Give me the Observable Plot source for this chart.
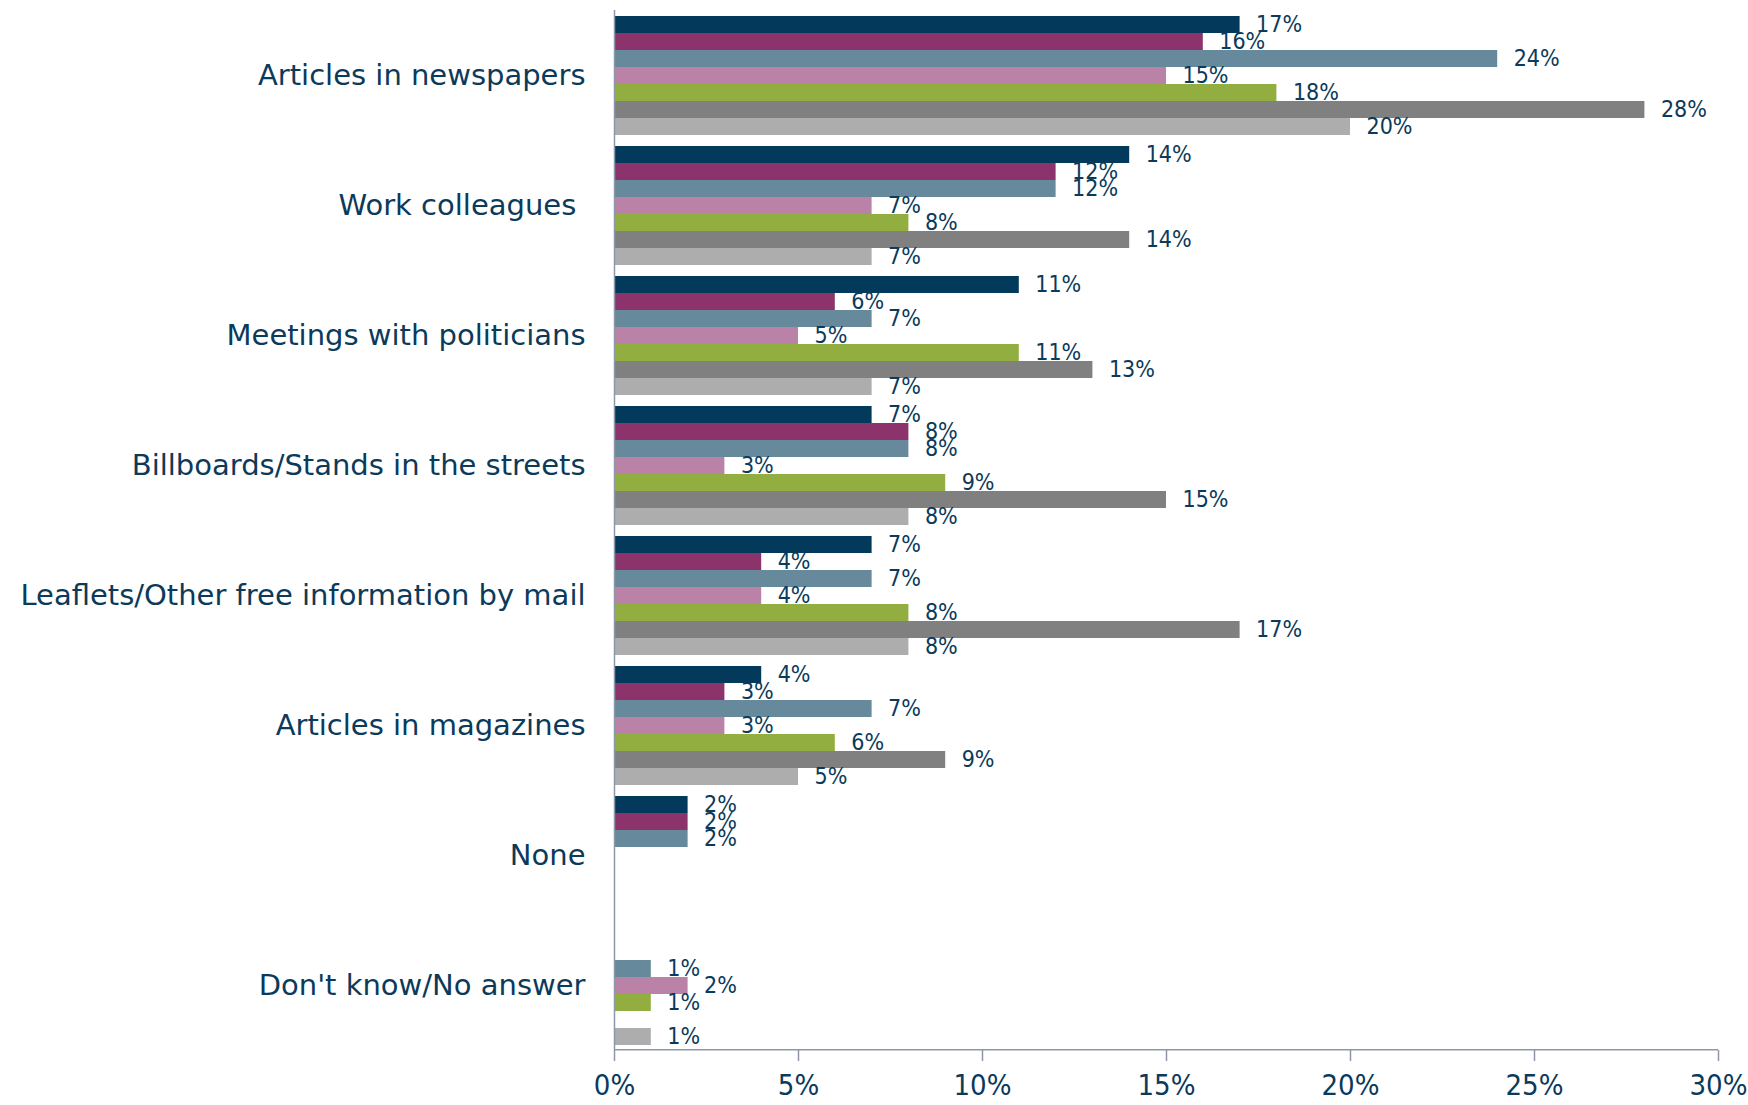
<!DOCTYPE html>
<html><head><meta charset="utf-8">
<script src="https://cdn.jsdelivr.net/npm/d3@7"></script>
<script src="https://cdn.jsdelivr.net/npm/@observablehq/plot@0.6"></script>
<style>html,body{margin:0;padding:0;background:#fff} svg{display:block}</style>
</head><body><div id="chart"></div>
<script>
const categories = ["Articles in newspapers","Work colleagues ","Meetings with politicians","Billboards/Stands in the streets","Leaflets/Other free information by mail","Articles in magazines","None","Don't know/No answer"];
const seriesNames = ["Series 1","Series 2","Series 3","Series 4","Series 5","Series 6","Series 7"];
const seriesColors = ["#033a5b","#8c336c","#66899c","#bb82a8","#92ae40","#808080","#adadad"];
const series1 = [17,14,11,7,7,4,2,null];
const series2 = [16,12,6,8,4,3,2,null];
const series3 = [24,12,7,8,7,7,2,1];
const series4 = [15,7,5,3,4,3,null,2];
const series5 = [18,8,11,9,8,6,null,1];
const series6 = [28,14,13,15,17,9,null,null];
const series7 = [20,7,7,8,8,5,null,1];
const xTicks = [0,5,10,15,20,25,30];

const allSeries = [series1,series2,series3,series4,series5,series6,series7];
const rows = [];
categories.forEach((c, ci) => allSeries.forEach((s, si) => {
  if (s[ci] != null) rows.push({category: c, series: seriesNames[si], value: s[ci]});
}));

const textColor = "#0b3a5a";
const axisColor = "#8e97a9";

const plot = Plot.plot({
  width: 1748, height: 1105,
  marginLeft: 614, marginRight: 30, marginTop: 8, marginBottom: 54,
  style: {fontFamily: "'DejaVu Sans Condensed','DejaVu Sans',sans-serif", color: textColor, background: "white", overflow: "visible"},
  x: {domain: [0, 30], axis: null},
  y: {domain: seriesNames, padding: 0, insetTop: 4, insetBottom: 4, axis: null},
  fy: {domain: categories, padding: 0, axis: null},
  color: {domain: seriesNames, range: seriesColors},
  marks: [
    Plot.barX(rows, {x: "value", y: "series", fy: "category", fill: "series"}),
    Plot.text(rows, {x: "value", y: "series", fy: "category", text: d => d.value + "%", textAnchor: "start", dx: 16, dy: 0, fontSize: 23, fill: textColor}),
    Plot.ruleX([0], {stroke: axisColor, strokeWidth: 1.5}),
    Plot.ruleY([{category: categories[7], series: seriesNames[6]}], {fy: "category", y: "series", x1: 0, x2: 30, dy: 12.7, stroke: axisColor, strokeWidth: 1.5}),
    Plot.axisX({ticks: xTicks, tickFormat: d => d + "%", tickSize: 11, tickPadding: 13, fontSize: 29, stroke: axisColor, strokeWidth: 1.5, fill: textColor, label: null}),
    Plot.axisFy({anchor: "left", tickSize: 0, tickPadding: 29, fontSize: 29, fontFamily: "'DejaVu Sans',sans-serif", fill: textColor, label: null})
  ]
});
document.getElementById("chart").appendChild(plot);
</script>
</body></html>
